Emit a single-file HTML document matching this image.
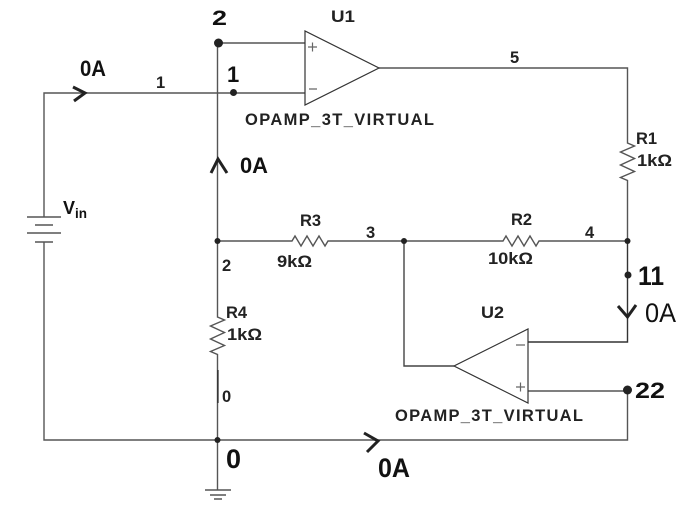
<!DOCTYPE html>
<html><head><meta charset="utf-8"><style>
html,body{margin:0;padding:0;background:#fff;width:691px;height:515px;overflow:hidden}
svg{display:block}
text{font-family:"Liberation Sans",sans-serif;font-size:16.5px;font-weight:bold;fill:#222}
.h{font-size:22px;fill:#111}
</style></head><body>
<svg width="691" height="515" viewBox="0 0 691 515" xmlns="http://www.w3.org/2000/svg">
<g fill="none" stroke="#555" stroke-width="1.4">
<path d="M44 217V93H305"/>
<path d="M44 242V440H627.5V391H528"/>
<path d="M218 43H305"/>
<path d="M217.5 43V317l7 3-14 6 14 6.500-14 6.500 14 6.500-14 6 7 3V490"/>
<path d="M217.500 241H292l3-5 6 10 6-10 6 10 6-10 6 10 3-5H503l3-5 6 10 6-10 6 10 6-10 6 10 3-5H627.500"/>
<path d="M379 68H627.500V143l7 3-14 6 14 6.500-14 6.500 14 6.500-14 6 7 3V241"/>
<path d="M627.500 241V342H528" stroke="#333"/>
<path d="M404 241V366H454" stroke="#444"/>
<path d="M27 217H61M35 225H53M27 233H61M35 242H53"/>
<path d="M205 490H231M210 495H226M214 499H222"/>
</g>
<g fill="none" stroke="#333" stroke-width="1.200">
<path d="M305 31V105L379 68Z"/>
<path d="M528 329V403L454 366Z"/>
<path d="M218 370V403" stroke="#222"/>
</g>
<g stroke="#666" stroke-width="1.200" fill="none">
<path d="M308 47h9M312.500 42.500v9M309 89h8"/>
<path d="M516 345h9M516 387h9M520.500 382.500v9"/>
</g>
<g fill="#222">
<circle cx="218.500" cy="43" r="4.500"/>
<circle cx="233.500" cy="92.500" r="3.500"/>
<circle cx="217.500" cy="241" r="3"/>
<circle cx="404" cy="241" r="3"/>
<circle cx="627.500" cy="241" r="3"/>
<circle cx="217.500" cy="440" r="3"/>
<circle cx="628" cy="275" r="3.500"/>
<circle cx="627.500" cy="390" r="4.500"/>
</g>
<g fill="none" stroke="#222" stroke-width="3">
<path d="M73 87L85 93L74 101"/>
<path d="M211 173L218 159L227 173"/>
<path d="M618 306L627.500 317L636 305"/>
<path d="M364 433L378 441L367 452"/>
</g>
<text x="331" y="22" textLength="24" lengthAdjust="spacingAndGlyphs">U1</text>
<text x="156" y="88">1</text>
<text x="510" y="63">5</text>
<text x="636" y="144">R1</text>
<text x="637" y="166" textLength="35" lengthAdjust="spacingAndGlyphs">1kΩ</text>
<text x="245" y="125" textLength="189" lengthAdjust="spacing">OPAMP_3T_VIRTUAL</text>
<text x="300" y="226">R3</text>
<text x="277" y="267" textLength="35" lengthAdjust="spacingAndGlyphs">9kΩ</text>
<text x="366" y="238">3</text>
<text x="511" y="225">R2</text>
<text x="488" y="264" textLength="45" lengthAdjust="spacingAndGlyphs">10kΩ</text>
<text x="585" y="238">4</text>
<text x="222" y="271">2</text>
<text x="226" y="318">R4</text>
<text x="227" y="340" textLength="35" lengthAdjust="spacingAndGlyphs">1kΩ</text>
<text x="222" y="402">0</text>
<text x="481" y="318" textLength="23" lengthAdjust="spacingAndGlyphs">U2</text>
<text x="395" y="421" textLength="188" lengthAdjust="spacing">OPAMP_3T_VIRTUAL</text>
<text class="h" x="212" y="25" textLength="15" lengthAdjust="spacingAndGlyphs" style="font-size:21px">2</text>
<text class="h" x="227" y="82" style="font-size:22px">1</text>
<text class="h" x="80" y="76" textLength="26" lengthAdjust="spacingAndGlyphs">0A</text>
<text class="h" x="240" y="173" textLength="28" lengthAdjust="spacingAndGlyphs">0A</text>
<text class="h" x="63" y="214" style="font-size:18px">V</text>
<text class="h" x="75" y="218" textLength="12" lengthAdjust="spacingAndGlyphs" style="font-size:14px">in</text>
<text class="h" x="638" y="285" textLength="26" lengthAdjust="spacingAndGlyphs" style="font-size:27px;font-weight:bold">11</text>
<text class="h" x="645" y="322" textLength="31" lengthAdjust="spacingAndGlyphs" style="font-size:27px;font-weight:normal">0A</text>
<text class="h" x="635" y="398" textLength="30" lengthAdjust="spacingAndGlyphs" style="font-size:22px">22</text>
<text class="h" x="378" y="477" textLength="32" lengthAdjust="spacingAndGlyphs" style="font-size:27px">0A</text>
<text class="h" x="226" y="468" style="font-size:27px;font-weight:bold">0</text>
</svg>
</body></html>
